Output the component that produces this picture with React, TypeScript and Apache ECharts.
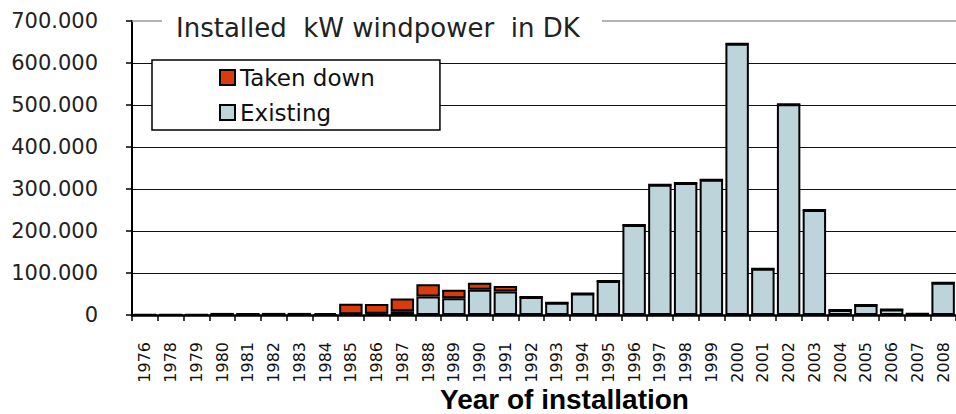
import React, { useEffect, useRef } from "react";
import * as echarts from "echarts";

const years = ["1976","1978","1979","1980","1981","1982","1983","1984","1985","1986","1987","1988","1989","1990","1991","1992","1993","1994","1995","1996","1997","1998","1999","2000","2001","2002","2003","2004","2005","2006","2007","2008"];
const existing = [0,0,0,0,0,0,0,0,2000,3000,9000,44000,40000,60000,56000,43000,29000,51000,81000,214000,310000,314000,322000,646000,110000,502000,250000,12000,24000,13000,3000,77000];
const takenDown = [1500,1000,1000,5000,5000,5000,5000,4500,25000,23000,30000,29000,20000,17000,13000,0,0,0,0,0,0,0,0,0,0,0,0,0,0,0,0,0];
const yTicks = [0,100000,200000,300000,400000,500000,600000,700000];

const titleText = "Installed  kW windpower  in DK";
const axisName = "Year of installation";

export default function App() {
  const ref = useRef<HTMLDivElement>(null);
  useEffect(() => {
    if (!ref.current) return;
    const chart = echarts.init(ref.current, null, { renderer: "svg" });
    const font = "DejaVu Sans";
    chart.setOption({
      animation: false,
      backgroundColor: "#fff",
      grid: { left: 132, top: 21, width: 825, bottom: 99, containLabel: false },
      legend: {
        data: ["Taken down", "Existing"],
        orient: "vertical",
        left: 152,
        top: 60,
        padding: [6, 65, 6, 67],
        itemGap: 12,
        itemWidth: 15,
        itemHeight: 15,
        icon: "rect",
        backgroundColor: "#fff",
        borderColor: "#000",
        borderWidth: 1.5,
        borderRadius: 0,
        textStyle: { fontFamily: font, fontSize: 23, color: "#111", padding: [0, 0, 0, 0] },
      },
      xAxis: {
        type: "category",
        data: years,
        axisLine: { show: true, lineStyle: { color: "#000", width: 2.5 } },
        axisTick: { show: true, length: 6, lineStyle: { color: "#000", width: 1.5 } },
        axisLabel: { rotate: 90, margin: 27, fontFamily: font, fontSize: 16, color: "#111", interval: 0 },
      },
      yAxis: {
        type: "value",
        min: 0,
        max: 700000,
        interval: 100000,
        axisLine: { show: true, lineStyle: { color: "#000", width: 2 } },
        axisTick: { show: true, length: 6, lineStyle: { color: "#000", width: 1.5 } },
        splitLine: { show: true, showMaxLine: false, lineStyle: { color: "#111", width: 1.2 } },
        axisLabel: {
          margin: 34,
          fontFamily: font,
          fontSize: 21,
          color: "#222",
          formatter: (v: number) => (v === 0 ? "0" : (v / 1000).toFixed(0) + ".000"),
        },
      },
      series: [
        {
          name: "Existing",
          type: "bar",
          stack: "a",
          data: existing,
          barCategoryGap: "9%",
          itemStyle: { color: "#bcd4da", borderColor: "#000", borderWidth: 2 },
          markLine: {
            silent: true,
            symbol: "none",
            label: { show: false },
            lineStyle: { color: "#999", type: "solid", width: 1.5 },
            data: [{ yAxis: yTicks[yTicks.length - 1] }],
          },
        },
        {
          name: "Taken down",
          type: "bar",
          stack: "a",
          data: takenDown,
          barCategoryGap: "9%",
          itemStyle: { color: "#d83c0c", borderColor: "#000", borderWidth: 2 },
        },
      ],
      graphic: [
        { type: "rect", left: 162, top: 14, z: 100, shape: { width: 440, height: 16 }, style: { fill: "#fff" } },
        {
          type: "text",
          left: 176,
          top: 15,
          z: 101,
          style: { text: titleText, fontFamily: font, fontSize: 26, fill: "#222" },
        },
        {
          type: "text",
          left: 440,
          top: 385,
          z: 101,
          style: { text: axisName, fontFamily: "Liberation Sans", fontWeight: "bold", fontSize: 28, fill: "#000" },
        },
      ],
    });
    return () => chart.dispose();
  }, []);
  return <div ref={ref} style={{ width: 956, height: 414, position: "absolute", left: 0, top: 0 }} />;
}
